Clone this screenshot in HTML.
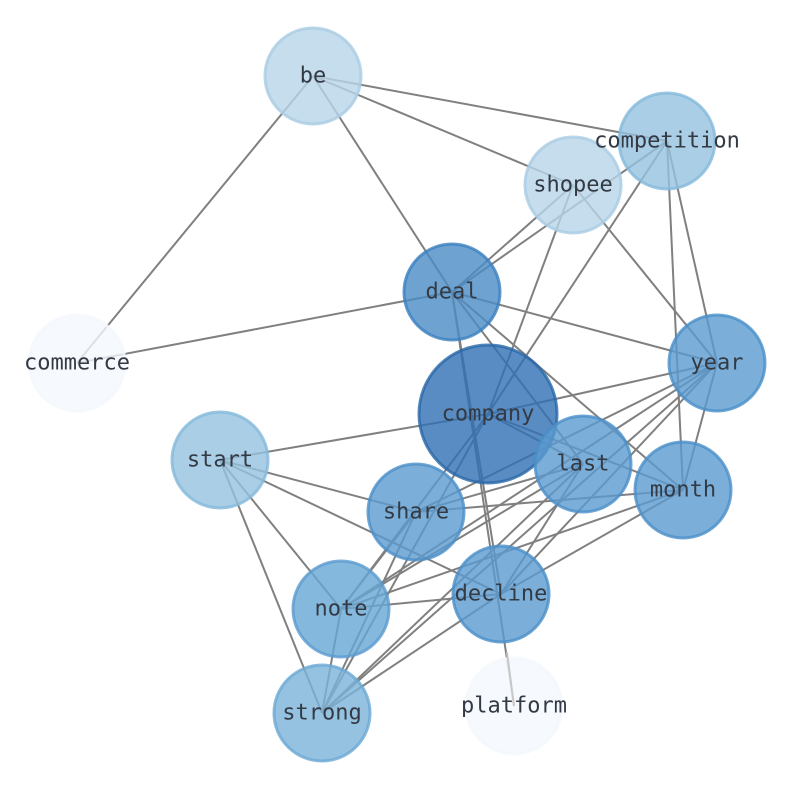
<!DOCTYPE html>
<html><head><meta charset="utf-8"><style>
html,body{margin:0;padding:0;background:#fff;}
svg{display:block;}
text{font-family:"DejaVu Sans Mono","Liberation Mono",monospace;font-size:22px;fill:#333a44;text-anchor:middle;dominant-baseline:central;}
</style></head><body>
<svg width="794" height="790" viewBox="0 0 794 790" xmlns="http://www.w3.org/2000/svg">
<g stroke="#808080" stroke-width="2" fill="none">
<line x1="313" y1="76" x2="77" y2="363"/>
<line x1="313" y1="76" x2="452" y2="292"/>
<line x1="313" y1="76" x2="667" y2="141"/>
<line x1="313" y1="76" x2="573" y2="185"/>
<line x1="77" y1="363" x2="452" y2="292"/>
<line x1="452" y1="292" x2="573" y2="185"/>
<line x1="452" y1="292" x2="667" y2="141"/>
<line x1="667" y1="141" x2="717" y2="363"/>
<line x1="667" y1="141" x2="683" y2="490"/>
<line x1="667" y1="141" x2="488" y2="414"/>
<line x1="573" y1="185" x2="717" y2="363"/>
<line x1="573" y1="185" x2="488" y2="414"/>
<line x1="452" y1="292" x2="717" y2="363"/>
<line x1="452" y1="292" x2="583" y2="464"/>
<line x1="452" y1="292" x2="683" y2="490"/>
<line x1="452" y1="292" x2="501" y2="594"/>
<line x1="452" y1="292" x2="514" y2="706"/>
<line x1="488" y1="414" x2="717" y2="363"/>
<line x1="488" y1="414" x2="220" y2="460"/>
<line x1="488" y1="414" x2="583" y2="464"/>
<line x1="488" y1="414" x2="683" y2="490"/>
<line x1="488" y1="414" x2="341" y2="609"/>
<line x1="488" y1="414" x2="322" y2="713"/>
<line x1="717" y1="363" x2="341" y2="609"/>
<line x1="717" y1="363" x2="322" y2="713"/>
<line x1="717" y1="363" x2="416" y2="512"/>
<line x1="717" y1="363" x2="501" y2="594"/>
<line x1="717" y1="363" x2="683" y2="490"/>
<line x1="220" y1="460" x2="416" y2="512"/>
<line x1="220" y1="460" x2="501" y2="594"/>
<line x1="220" y1="460" x2="341" y2="609"/>
<line x1="220" y1="460" x2="322" y2="713"/>
<line x1="583" y1="464" x2="341" y2="609"/>
<line x1="583" y1="464" x2="322" y2="713"/>
<line x1="583" y1="464" x2="416" y2="512"/>
<line x1="583" y1="464" x2="501" y2="594"/>
<line x1="683" y1="490" x2="416" y2="512"/>
<line x1="683" y1="490" x2="341" y2="609"/>
<line x1="683" y1="490" x2="501" y2="594"/>
<line x1="501" y1="594" x2="341" y2="609"/>
<line x1="501" y1="594" x2="322" y2="713"/>
<line x1="416" y1="512" x2="322" y2="713"/>
<line x1="416" y1="512" x2="341" y2="609"/>
<line x1="341" y1="609" x2="322" y2="713"/>
</g>
<g stroke-width="3" fill-opacity="0.8" stroke-opacity="0.8">
<circle cx="313" cy="76" r="48" fill="#b7d4e9" stroke="#a9cce4"/>
<circle cx="667" cy="141" r="48" fill="#93c2e0" stroke="#85b9db"/>
<circle cx="573" cy="185" r="48" fill="#b7d4e9" stroke="#a9cce4"/>
<circle cx="452" cy="292" r="48" fill="#4a8cc6" stroke="#3a7fbf"/>
<circle cx="77" cy="363" r="48" fill="#f4f8fd" stroke="#f4f8fd"/>
<circle cx="717" cy="363" r="48" fill="#5a9bcf" stroke="#4a8ec8"/>
<circle cx="488" cy="414" r="69" fill="#2f6fb3" stroke="#2866a8"/>
<circle cx="220" cy="460" r="48" fill="#93c2e0" stroke="#85b9db"/>
<circle cx="583" cy="464" r="48" fill="#5a9bcf" stroke="#4a8ec8"/>
<circle cx="683" cy="490" r="48" fill="#5a9bcf" stroke="#4a8ec8"/>
<circle cx="416" cy="512" r="48" fill="#5a9bcf" stroke="#4a8ec8"/>
<circle cx="501" cy="594" r="48" fill="#5a9bcf" stroke="#4a8ec8"/>
<circle cx="341" cy="609" r="48" fill="#67a6d4" stroke="#5a9bcf"/>
<circle cx="322" cy="713" r="48" fill="#7ab3da" stroke="#6ca9d5"/>
<circle cx="514" cy="706" r="48" fill="#f4f8fd" stroke="#f4f8fd"/>
</g>
<line x1="507" y1="652" x2="514" y2="706" stroke="#c8c8c8" stroke-width="2"/>
<text x="313" y="76">be</text>
<text x="667" y="141">competition</text>
<text x="573" y="185">shopee</text>
<text x="452" y="292">deal</text>
<text x="77" y="363">commerce</text>
<text x="717" y="363">year</text>
<text x="488" y="414">company</text>
<text x="220" y="460">start</text>
<text x="583" y="464">last</text>
<text x="683" y="490">month</text>
<text x="416" y="512">share</text>
<text x="501" y="594">decline</text>
<text x="341" y="609">note</text>
<text x="322" y="713">strong</text>
<text x="514" y="706">platform</text>
</svg>
</body></html>
